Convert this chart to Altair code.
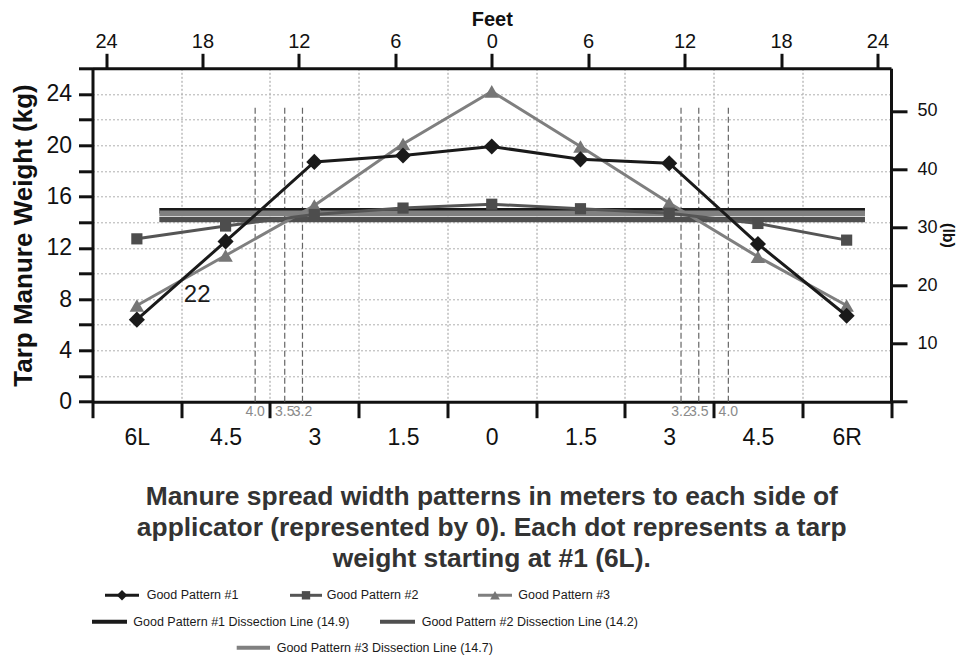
import altair as alt
import pandas as pd

# ---------------- data ----------------
positions_m = [-6, -4.5, -3, -1.5, 0, 1.5, 3, 4.5, 6]
position_labels = ["6L", "4.5", "3", "1.5", "0", "1.5", "3", "4.5", "6R"]
pattern_names = ["Good Pattern #1", "Good Pattern #2", "Good Pattern #3"]
pattern1 = [6.4, 12.5, 18.7, 19.2, 19.9, 18.9, 18.6, 12.3, 6.7]
pattern2 = [12.7, 13.7, 14.6, 15.1, 15.4, 15.05, 14.7, 13.9, 12.6]
pattern3 = [7.5, 11.4, 15.3, 20.1, 24.2, 19.9, 15.5, 11.3, 7.5]
dissection_values = [14.9, 14.2, 14.7]
dissection_span_m = [-5.62, 6.31]
effective_widths_m = [-4.0, -3.5, -3.2, 3.2, 3.5, 4.0]
effective_labels = ["4.0", "3.5", "3.2", "3.2", "3.5", "4.0"]
effective_top_kg = 23.1
stray_label = "22"
stray_label_pos = [-4.98, 8.3]
kg_ticks = list(range(0, 27, 2))
feet_ticks = [-24, -18, -12, -6, 0, 6, 12, 18, 24]
lb_ticks = [0, 10, 20, 30, 40, 50]
caption_lines = [
    "Manure spread width patterns in meters to each side of",
    "applicator (represented by 0). Each dot represents a tarp",
    "weight starting at #1 (6L).",
]

# ---------------- styles / layout ----------------
W, H = 798.5, 333.4
FONT = "Liberation Sans, Arial, Helvetica, sans-serif"
pat_colors = ["#1a1a1a", "#4d4d4d", "#767676"]
pat_line_colors = ["#1a1a1a", "#555555", "#7f7f7f"]
pat_shapes = ["diamond", "square", "triangle-up"]
pat_sizes = [260, 125, 210]
dis_colors = ["#1a1a1a", "#4f4f4f", "#808080"]

# ---------------- scales & axes ----------------
xscale = alt.Scale(domain=[-6.75, 6.75], nice=False, zero=False)
yscale = alt.Scale(domain=[0, 26], nice=False, zero=False)
boundaries = [-6.75 + 1.5 * i for i in range(10)]

label_expr = "''"
for v, lab in zip(positions_m, position_labels):
    label_expr = f"(abs(datum.value - ({v})) < 0.01 ? '{lab}' : {label_expr})"

xaxis = alt.Axis(
    orient="bottom", values=boundaries + positions_m, labelExpr=label_expr,
    tickOpacity={"condition": {"test": "abs(datum.value) % 1.5 > 0.01", "value": 1}, "value": 0},
    gridOpacity={"condition": {"test": "abs(datum.value) % 1.5 > 0.01", "value": 1}, "value": 0},
    grid=True, gridDash=[2, 2], gridColor="#9a9a9a", gridWidth=1,
    tickSize=16, tickWidth=3, tickColor="#111", domainWidth=3, domainColor="#111",
    labelFontSize=23, labelColor="#111", labelPadding=9, labelFlush=False,
    labelOverlap=False, title=None,
)
yaxis = alt.Axis(
    orient="left", values=kg_ticks,
    labelExpr="datum.value % 4 == 0 ? datum.label : ''",
    grid=True, gridDash=[2, 2], gridColor="#b0b0b0", gridWidth=1,
    tickSize=14, tickWidth=3, tickColor="#111", domainWidth=3, domainColor="#111",
    labelFontSize=23, labelColor="#111", labelPadding=7, labelOverlap=False,
    title="Tarp Manure Weight (kg)", titleFontSize=26, titleFontWeight="bold",
    titleColor="#111", titlePadding=9,
)


def X(field):
    return alt.X(field, type="quantitative", scale=xscale, axis=xaxis)


def Y(field):
    return alt.Y(field, type="quantitative", scale=yscale, axis=yaxis)


# ---------------- main layers ----------------
eff_df = pd.DataFrame({"m": effective_widths_m, "kg": [0] * 6,
                       "top": [effective_top_kg] * 6, "label": effective_labels})
dashed = alt.Chart(eff_df).mark_rule(color="#666", strokeWidth=1.2, strokeDash=[6, 3]).encode(
    x=X("m"), y=Y("kg"), y2="top")
eff_text = alt.Chart(eff_df).mark_text(fontSize=14, color="#8a8a8a", baseline="middle").encode(
    x=X("m"), y=alt.value(H + 10), text="label:N")

dis_df = pd.DataFrame({
    "m": [dissection_span_m[0]] * 3, "m2": [dissection_span_m[1]] * 3,
    "kg": dissection_values, "color": dis_colors})
dis = alt.Chart(dis_df).mark_rule(strokeWidth=5.5).encode(
    x=X("m"), x2="m2", y=Y("kg"), color=alt.Color("color:N", scale=None))

pattern_layers = []
for i in [2, 1, 0]:
    vals = [pattern1, pattern2, pattern3][i]
    df = pd.DataFrame({"m": positions_m, "kg": vals})
    line = alt.Chart(df).mark_line(color=pat_line_colors[i], strokeWidth=3).encode(x=X("m"), y=Y("kg"))
    pts = alt.Chart(df).mark_point(shape=pat_shapes[i], size=pat_sizes[i], filled=True,
                                   color=pat_colors[i], opacity=1).encode(x=X("m"), y=Y("kg"))
    pattern_layers += [line, pts]

stray_df = pd.DataFrame({"m": [stray_label_pos[0]], "kg": [stray_label_pos[1]], "t": [stray_label]})
stray = alt.Chart(stray_df).mark_text(fontSize=24, color="#1a1a1a").encode(
    x=X("m"), y=Y("kg"), text="t:N")

main = alt.layer(dashed, dis, *pattern_layers, stray, eff_text)

# ---------------- secondary axes (feet top, lb right) ----------------
sec_df = pd.DataFrame({"ft": feet_ticks, "lb": [0] * len(feet_ticks)})
sec = alt.Chart(sec_df).mark_point(opacity=0).encode(
    x=alt.X("ft:Q", scale=alt.Scale(domain=[-24.84, 24.84], nice=False, zero=False),
            axis=alt.Axis(orient="top", values=feet_ticks, labelExpr="'' + abs(datum.value)",
                          tickSize=15, tickWidth=3, tickColor="#111", domainWidth=3,
                          domainColor="#111", labelFontSize=20, labelColor="#111",
                          labelPadding=2, labelFlush=False, labelOverlap=False, grid=False,
                          title="Feet", titleFontSize=20, titleFontWeight="bold",
                          titleColor="#111", titlePadding=2)),
    y=alt.Y("lb:Q", scale=alt.Scale(domain=[0, 26 * 2.20462], nice=False, zero=False),
            axis=alt.Axis(orient="right", values=lb_ticks,
                          labelExpr="datum.value == 0 ? '' : datum.label",
                          tickSize=16, tickWidth=3, tickColor="#111", domainWidth=3,
                          domainColor="#111", labelFontSize=18, labelColor="#111",
                          labelPadding=10, labelOverlap=False, grid=False,
                          title="(lb)", titleFontSize=16, titleFontWeight="bold",
                          titleColor="#111", titleX=48, titleY=H / 2)),
)

# ---------------- caption + legend (pixel layout below plot) ----------------
AX = alt.Scale(domain=[0, W], nice=False, zero=False)
AY = alt.Scale(domain=[0, H], nice=False, zero=False, reverse=True)


def PX(f):
    return alt.X(f, type="quantitative", scale=AX, axis=None)


def PY(f):
    return alt.Y(f, type="quantitative", scale=AY, axis=None)


cap_df = pd.DataFrame({"t": caption_lines, "px": [W / 2] * 3, "py": [428.7, 459.2, 490.2]})
caption = alt.Chart(cap_df).mark_text(fontSize=26.4, fontWeight="bold", color="#333",
                                      baseline="middle", align="center").encode(
    x=PX("px"), y=PY("py"), text="t:N")

legend_labels = pattern_names + [f"{n} Dissection Line ({v})" for n, v in zip(pattern_names, dissection_values)]
# legend layout: (line start, line end, text x, row y)
legend_layout = [
    (12.5, 46.5, 54.2, 527), (197.5, 229.5, 234.2, 527), (385.5, 419.5, 425.8, 527),
    (-0.5, 34.5, 40.8, 553.4), (287.5, 322.5, 329.2, 553.4), (144.2, 177.5, 184.2, 579.5),
]
leg_colors = pat_line_colors + dis_colors
leg_widths = [3, 3, 3, 4, 4, 4]
leg_df = pd.DataFrame({
    "t": legend_labels,
    "px": [l[0] for l in legend_layout], "px2": [l[1] for l in legend_layout],
    "tx": [l[2] for l in legend_layout], "py": [l[3] for l in legend_layout],
    "color": leg_colors, "w": leg_widths,
})
leg_lines = alt.Chart(leg_df).mark_rule().encode(
    x=PX("px"), x2="px2", y=PY("py"), color=alt.Color("color:N", scale=None),
    strokeWidth=alt.StrokeWidth("w:Q", scale=None))
leg_text = alt.Chart(leg_df).mark_text(fontSize=12.5, color="#1a1a1a", align="left",
                                       baseline="middle").encode(
    x=PX("tx"), y=PY("py"), text="t:N")
mk_df = pd.DataFrame({
    "px": [(l[0] + l[1]) / 2 for l in legend_layout[:3]], "py": [l[3] for l in legend_layout[:3]],
    "shape": pat_shapes, "color": pat_colors, "size": [110, 70, 95]})
leg_marks = alt.Chart(mk_df).mark_point(filled=True, opacity=1).encode(
    x=PX("px"), y=PY("py"), shape=alt.Shape("shape:N", scale=None),
    color=alt.Color("color:N", scale=None), size=alt.Size("size:Q", scale=None))

annot = alt.layer(caption, leg_lines, leg_marks, leg_text)

chart = alt.layer(main, sec, annot).resolve_scale(x="independent", y="independent").properties(
    width=W, height=H,
    autosize=alt.AutoSizeParams(type="none"),
    padding={"left": 84.5, "top": 60.3, "right": 66, "bottom": 254.3},
).configure(font=FONT).configure_view(strokeWidth=0)

chart.save("out.html", embed_options={"renderer": "svg", "actions": False})
